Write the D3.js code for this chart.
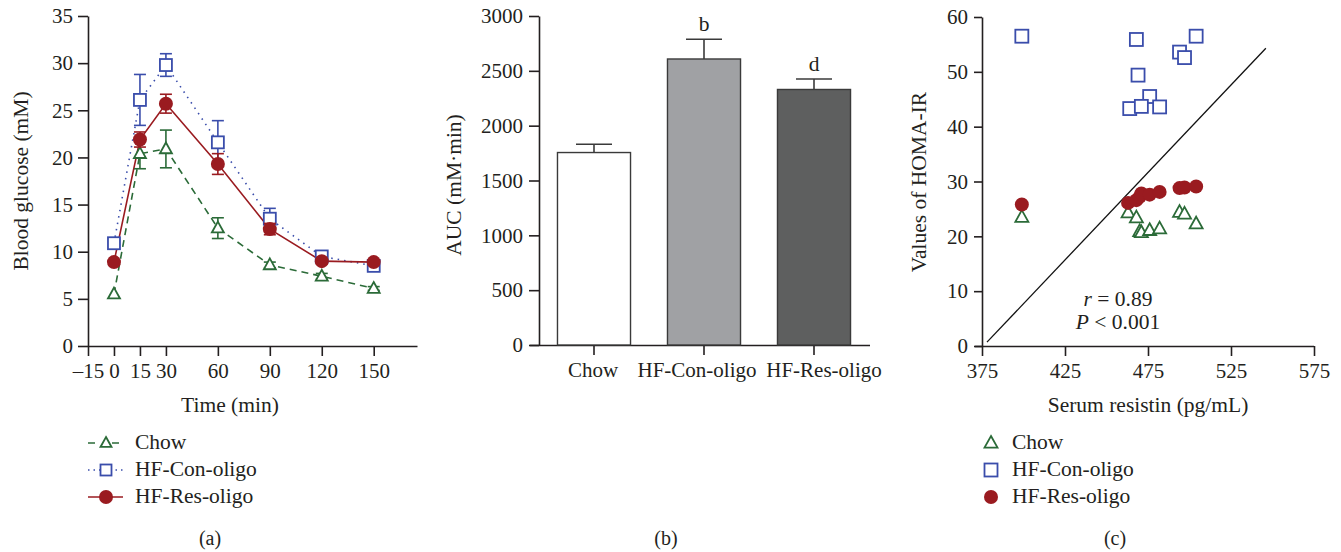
<!DOCTYPE html>
<html>
<head>
<meta charset="utf-8">
<script src="https://cdn.jsdelivr.net/npm/d3@7"></script>
<style>
  body { margin: 0; background: #fff; }
  svg text { font-family: "Liberation Serif", "Times New Roman", serif; fill: #231f20; }
</style>
</head>
<body>
<svg id="fig" width="1341" height="552"></svg>
<script>
// ---- data ----
var groups = ["Chow", "HF-Con-oligo", "HF-Res-oligo"];
var colors = ["#2b6b38", "#3a4dab", "#9a1b20"];

// (a) glucose tolerance
var times = [0, 15, 30, 60, 90, 120, 150];
var timeTicks = [-15, 0, 15, 30, 60, 90, 120, 150];
var chowGlu = [5.5, 20.4, 20.9, 12.5, 8.6, 7.4, 6.1];
var chowSe = [0, 1.6, 2.0, 1.1, 0.3, 0.3, 0.2];
var conGlu = [10.9, 26.1, 29.8, 21.6, 13.5, 9.5, 8.5];
var conSe = [0, 2.7, 1.2, 2.3, 1.1, 0.4, 0.3];
var resGlu = [8.9, 21.9, 25.7, 19.3, 12.4, 9.0, 8.9];
var resSe = [0, 0.8, 1.0, 1.1, 0.6, 0.3, 0.2];

// (b) AUC
var aucVals = [1755, 2608, 2330];
var aucSe = [75, 180, 95];
var aucLetters = ["", "b", "d"];
var barFills = ["#ffffff", "#a0a1a4", "#5e5f5f"];

// (c) resistin vs HOMA-IR
var chowRes = [399, 463, 468, 470, 471, 476, 482, 494, 497, 504];
var chowHoma = [23.5, 24.3, 23.4, 20.9, 20.7, 21.1, 21.4, 24.4, 24.1, 22.3];
var conRes = [399, 468, 504, 494, 497, 469, 476, 464, 471, 482];
var conHoma = [56.5, 55.9, 56.5, 53.6, 52.6, 49.4, 45.5, 43.3, 43.7, 43.6];
var resRes = [399, 463, 468, 470, 471, 476, 482, 494, 497, 504];
var resHoma = [25.8, 26.1, 26.6, 27.2, 27.8, 27.6, 28.1, 28.8, 28.9, 29.1];
var regX = [378, 546];
var regY = [0.7, 54.3];

var svg = d3.select("#fig");
var ink = "#231f20";
var fs = 21;   // tick labels
var ls = 21.5; // titles, legend

function styleAxis(g) {
  g.selectAll("path, line").attr("stroke", ink).attr("stroke-width", 1.6);
  g.selectAll("text").style("font-size", fs + "px").attr("fill", ink);
}

// marker drawing
function marker(g, kind, x, y, color, s) {
  if (kind === 0) {
    var h = s * 0.9;
    g.append("path")
      .attr("d", "M" + x + "," + (y - h * 0.6) + "L" + (x + s / 2) + "," + (y + h * 0.4) + "L" + (x - s / 2) + "," + (y + h * 0.4) + "Z")
      .attr("fill", "#fff").attr("stroke", color).attr("stroke-width", 1.8);
  } else if (kind === 1) {
    g.append("rect").attr("x", x - s / 2).attr("y", y - s / 2).attr("width", s).attr("height", s)
      .attr("fill", "#fff").attr("stroke", color).attr("stroke-width", 1.8);
  } else {
    g.append("circle").attr("cx", x).attr("cy", y).attr("r", s / 2 + 0.5).attr("fill", color);
  }
}

// ===== panel (a) =====
var xa = d3.scaleLinear().domain([-15, 175]).range([88, 417]);
var ya = d3.scaleLinear().domain([0, 35]).range([346, 16]);

svg.append("g").attr("transform", "translate(0,346)")
  .call(d3.axisBottom(xa).tickValues(timeTicks).tickSize(10).tickSizeOuter(0).tickPadding(3)
    .tickFormat(function(d) { return d < 0 ? "\u2013" + Math.abs(d) : d; }))
  .call(styleAxis)
  .call(function(g) { g.selectAll(".tick text").attr("dy", "0.9em"); });
svg.append("g").attr("transform", "translate(88,0)")
  .call(d3.axisLeft(ya).ticks(7).tickSize(10).tickSizeOuter(0).tickPadding(5))
  .call(styleAxis);

svg.append("text").attr("x", 230).attr("y", 412).attr("text-anchor", "middle")
  .style("font-size", ls + "px").text("Time (min)");
svg.append("text").attr("transform", "translate(28,181) rotate(-90)").attr("text-anchor", "middle")
  .style("font-size", ls + "px").text("Blood glucose (mM)");

var seriesA = [[chowGlu, chowSe], [conGlu, conSe], [resGlu, resSe]];
var dashes = ["7,5", "1.5,5", null];
var ga = svg.append("g");
seriesA.forEach(function(s, i) {
  var pts = times.map(function(t, j) { return [xa(t), ya(s[0][j])]; });
  ga.append("path").attr("d", d3.line()(pts)).attr("fill", "none")
    .attr("stroke", colors[i]).attr("stroke-width", 1.6)
    .attr("stroke-dasharray", dashes[i]);
});
seriesA.forEach(function(s, i) {
  var g = ga.append("g");
  times.forEach(function(t, j) {
    var se = s[1][j];
    if (se > 0) {
      var x = xa(t), y1 = ya(s[0][j] + se), y2 = ya(s[0][j] - se);
      g.append("line").attr("x1", x).attr("x2", x).attr("y1", y1).attr("y2", y2).attr("stroke", colors[i]).attr("stroke-width", 1.6);
      [y1, y2].forEach(function(y) {
        g.append("line").attr("x1", x - 6).attr("x2", x + 6).attr("y1", y).attr("y2", y).attr("stroke", colors[i]).attr("stroke-width", 1.6);
      });
    }
    marker(g, i, xa(t), ya(s[0][j]), colors[i], i === 2 ? 13 : 12);
  });
});

// legend (a)
groups.forEach(function(name, i) {
  var y = 443 + i * 27;
  var lg = svg.append("g");
  lg.append("line").attr("x1", 88).attr("x2", 123).attr("y1", y).attr("y2", y)
    .attr("stroke", colors[i]).attr("stroke-width", 1.6).attr("stroke-dasharray", i === 0 ? "7,5" : i === 1 ? "1.5,4" : null);
  if (i < 2) lg.append("rect").attr("x", 100).attr("y", y - 6).attr("width", 12).attr("height", 12).attr("fill", "#fff");
  marker(lg, i, 106, y, colors[i], i === 2 ? 13 : 11);
  lg.append("text").attr("x", 135).attr("y", y + 6).style("font-size", ls + "px").text(name);
});
svg.append("text").attr("x", 210).attr("y", 545).attr("text-anchor", "middle").style("font-size", "20px").text("(a)");

// ===== panel (b) =====
var xb = d3.scaleBand().domain(groups).range([539, 869]).paddingInner(0.336).paddingOuter(0.168);
var yb = d3.scaleLinear().domain([0, 3000]).range([345, 16]);
var labelShift = [-1, -7, 10];

svg.append("g").attr("transform", "translate(0,345)")
  .call(d3.axisBottom(xb).tickSize(10).tickSizeOuter(0).tickPadding(3))
  .call(styleAxis)
  .call(function(g) {
    g.select(".domain").attr("d", "M530,0.5H870");
    g.selectAll(".tick text").attr("dy", "0.9em").attr("dx", function(d, i) { return labelShift[i]; });
  });
svg.append("g").attr("transform", "translate(539,0)")
  .call(d3.axisLeft(yb).ticks(6, "d").tickSize(10).tickSizeOuter(0).tickPadding(6))
  .call(styleAxis);

svg.append("text").attr("transform", "translate(461,185) rotate(-90)").attr("text-anchor", "middle")
  .style("font-size", ls + "px").text("AUC (mM\u00b7min)");

var gb = svg.append("g");
groups.forEach(function(gname, i) {
  var x0 = xb(gname), bw = xb.bandwidth(), cx = x0 + bw / 2;
  var top = yb(aucVals[i]), eTop = yb(aucVals[i] + aucSe[i]);
  gb.append("line").attr("x1", cx).attr("x2", cx).attr("y1", top).attr("y2", eTop).attr("stroke", "#3a3a3a").attr("stroke-width", 1.6);
  gb.append("line").attr("x1", cx - 18).attr("x2", cx + 18).attr("y1", eTop).attr("y2", eTop).attr("stroke", "#3a3a3a").attr("stroke-width", 1.6);
  gb.append("rect").attr("x", x0).attr("y", top).attr("width", bw).attr("height", yb(0) - top)
    .attr("fill", barFills[i]).attr("stroke", "#3a3a3a").attr("stroke-width", 1.4);
  if (aucLetters[i]) {
    gb.append("text").attr("x", cx).attr("y", eTop - 8).attr("text-anchor", "middle")
      .style("font-size", ls + "px").text(aucLetters[i]);
  }
});
svg.append("text").attr("x", 666).attr("y", 545).attr("text-anchor", "middle").style("font-size", "20px").text("(b)");

// ===== panel (c) =====
var xc = d3.scaleLinear().domain([375, 575]).range([982, 1314]);
var yc = d3.scaleLinear().domain([0, 60]).range([346, 17]);

svg.append("g").attr("transform", "translate(0,346)")
  .call(d3.axisBottom(xc).tickValues([375, 425, 475, 525, 575]).tickSize(10).tickSizeOuter(0).tickPadding(3))
  .call(styleAxis)
  .call(function(g) {
    g.select(".domain").attr("d", "M975,0.5H1314");
    g.selectAll(".tick text").attr("dy", "0.9em");
  });
svg.append("g").attr("transform", "translate(982,0)")
  .call(d3.axisLeft(yc).ticks(6).tickSize(8).tickSizeOuter(0).tickPadding(6))
  .call(styleAxis);

svg.append("text").attr("x", 1148).attr("y", 412).attr("text-anchor", "middle")
  .style("font-size", ls + "px").text("Serum resistin (pg/mL)");
svg.append("text").attr("transform", "translate(926,182) rotate(-90)").attr("text-anchor", "middle")
  .style("font-size", ls + "px").text("Values of HOMA-IR");

var gc = svg.append("g");
gc.append("line").attr("x1", xc(regX[0])).attr("y1", yc(regY[0])).attr("x2", xc(regX[1])).attr("y2", yc(regY[1]))
  .attr("stroke", "#111").attr("stroke-width", 1.3);
var seriesC = [[chowRes, chowHoma], [conRes, conHoma], [resRes, resHoma]];
seriesC.forEach(function(s, i) {
  s[0].forEach(function(v, j) {
    marker(gc, i, xc(v), yc(s[1][j]), colors[i], 13);
  });
});

var rt = svg.append("text").attr("x", 1118).attr("y", 306).attr("text-anchor", "middle").style("font-size", ls + "px");
rt.append("tspan").style("font-style", "italic").text("r");
rt.append("tspan").text(" = 0.89");
var pt = svg.append("text").attr("x", 1118).attr("y", 329).attr("text-anchor", "middle").style("font-size", ls + "px");
pt.append("tspan").style("font-style", "italic").text("P");
pt.append("tspan").text(" < 0.001");

groups.forEach(function(name, i) {
  var y = 443 + i * 27;
  marker(svg.append("g"), i, 991, y, colors[i], 13);
  svg.append("text").attr("x", 1012).attr("y", y + 6).style("font-size", ls + "px").text(name);
});
svg.append("text").attr("x", 1115).attr("y", 545).attr("text-anchor", "middle").style("font-size", "20px").text("(c)");
</script>
</body>
</html>
